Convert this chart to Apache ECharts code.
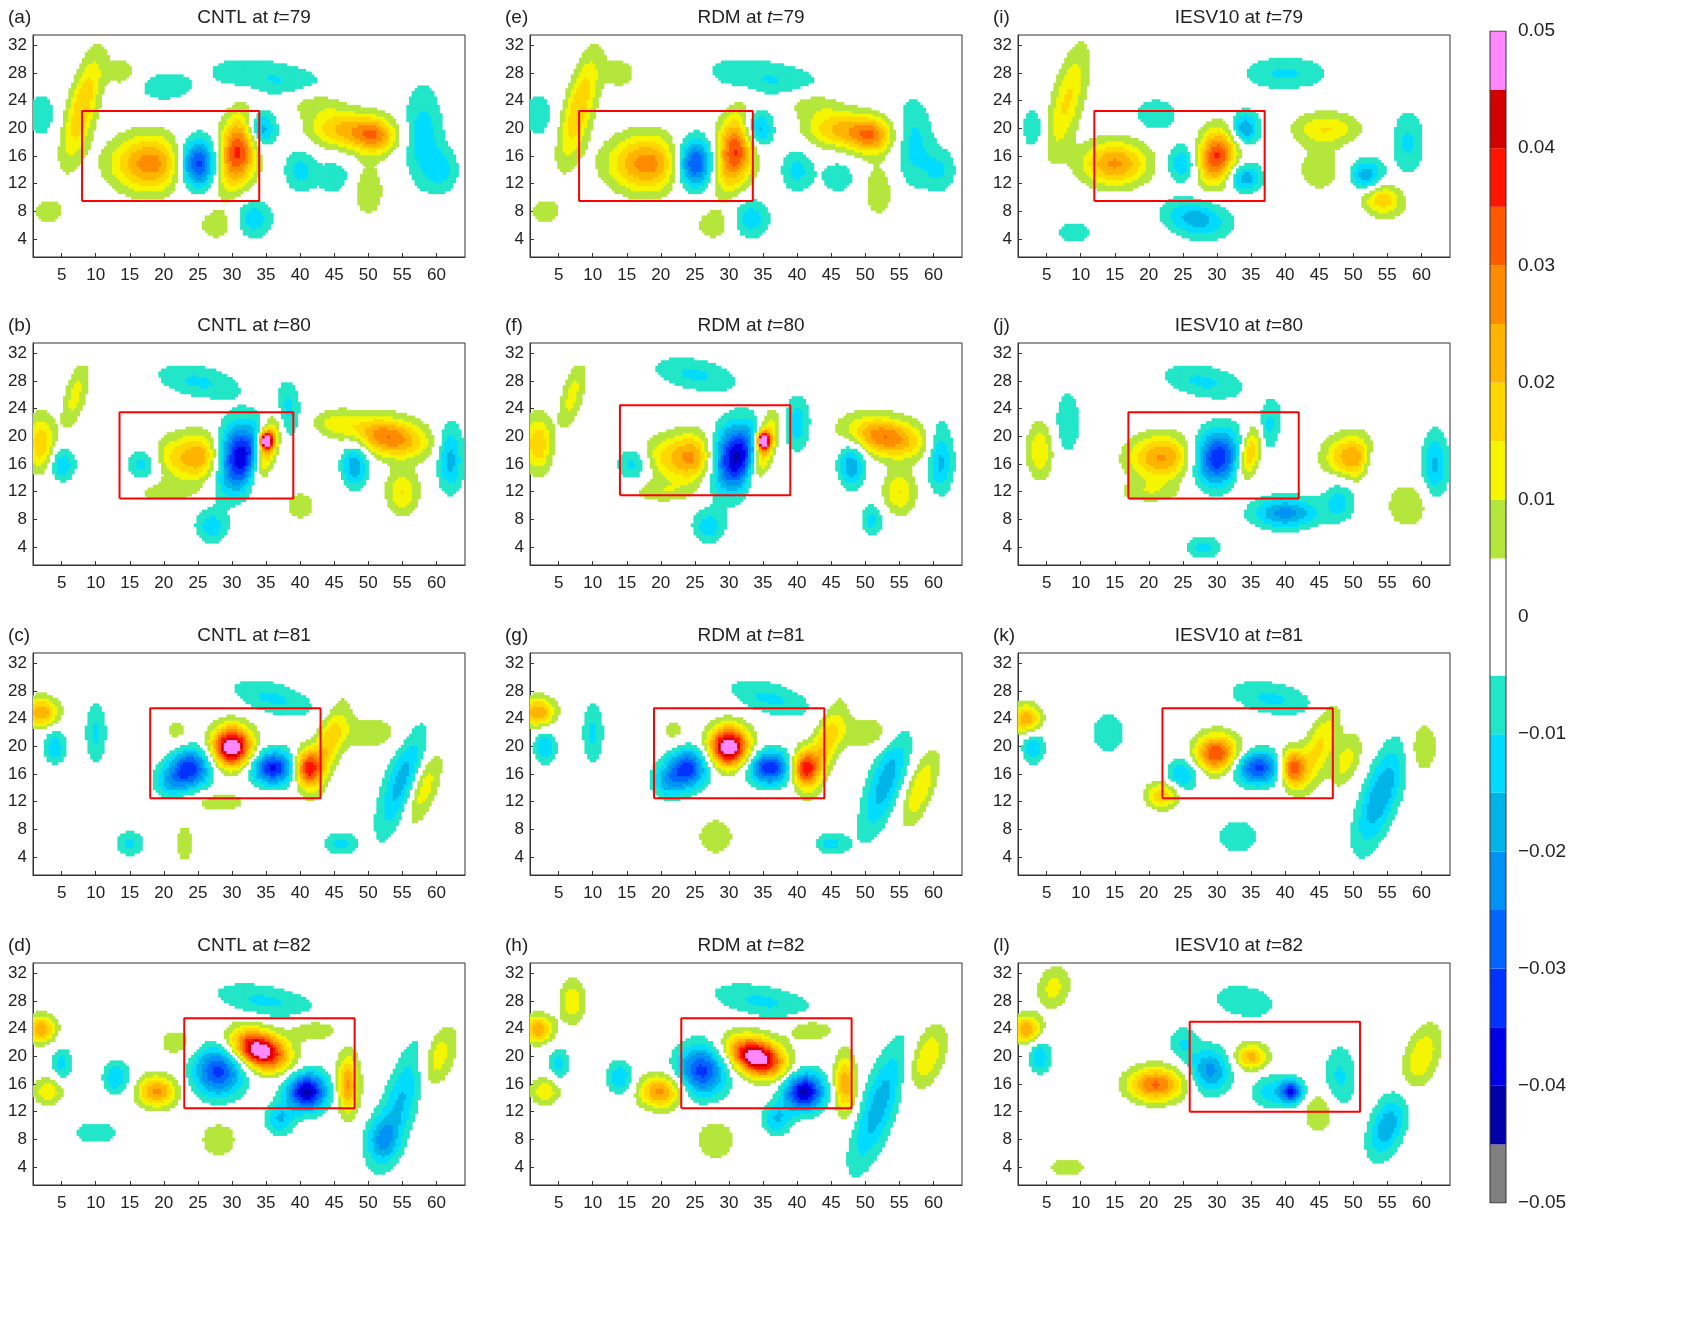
<!DOCTYPE html>
<html><head><meta charset="utf-8">
<script src="https://cdn.jsdelivr.net/npm/echarts@6/dist/echarts.min.js"></script>
<style>html,body{margin:0;background:#fff}#c{width:1700px;height:1319px}</style>
</head><body><div id="c"></div>
<script>
// Panel metadata
const panelLetters = ['a','b','c','d','e','f','g','h','i','j','k','l'];
const panelNames = ['CNTL','CNTL','CNTL','CNTL','RDM','RDM','RDM','RDM','IESV10','IESV10','IESV10','IESV10'];
const panelTimes = [79,80,81,82,79,80,81,82,79,80,81,82];
const xTicks = [5,10,15,20,25,30,35,40,45,50,55,60];
const yTicks = [4,8,12,16,20,24,28,32];
// Red boxes [x0,x1,y0,y1]
const boxes = [
 [8,34,9.5,22.5],[13.5,39,11,23.5],[18,43,12.5,25.5],[23,48,12.5,25.5],
 [8,33.5,9.5,22.5],[14,39,11.5,24.5],[19,44,12.5,25.5],[23,48,12.5,25.5],
 [12,37,9.5,22.5],[17,42,11,23.5],[22,47,12.5,25.5],[26,51,12,25]];
// Anomaly features: [x, y, amplitude, sx, sy, angleDeg]
const blobsA = [[18,15,0.028,3.5,2.5,0],[25,15,-0.038,1.8,2.2,0],[31,17,0.038,1.8,3.5,-15],[34,20,-0.028,1.4,1.8,0],[8,23,0.02,1.3,5,-15],[36,27,-0.011,6,1.8,-10],[46,20,0.02,3,1.7,0],[51,19,0.025,2,1.6,0],[58,19,-0.013,1.8,4.5,0],[2,22,-0.01,1.2,2,0],[28,6,0.008,2,1.5,0],[33,7,-0.014,1.8,1.8,0],[40,14,-0.012,1.5,2,0],[45,13,-0.01,1.5,1.5,0],[50,11,0.009,1.5,2.5,0],[61,14,-0.01,1.5,2,0],[3,8,0.008,1.5,1.2,0],[20,26,-0.008,3,1.5,0],[42,24,0.01,3,1.3,0],[14,28,0.008,1.5,1.5,0]];
const blobsB = [[26,17,0.028,2.2,2.2,0],[21,17,0.012,2,2,0],[31,17,-0.043,2.4,3,-20],[35,18,0.035,1,3,-15],[35,19.5,0.05,0.6,0.7,0],[17,16,-0.013,1.5,1.5,0],[2,19,0.02,1.2,2.5,0],[5,16,-0.015,1.2,1.5,0],[53,20,0.03,3.5,1.7,-10],[48,16,-0.02,1.2,2,0],[62,17,-0.018,1.2,3,0],[55,12,0.015,1.5,2,0],[25,28,-0.011,4,1.5,-10],[38,24,-0.013,1.2,2.5,0],[27,7,-0.013,1.5,1.5,0],[40,10,0.008,1.5,1.5,0],[7,26,0.012,1,3,-15],[20,12,0.008,3,1,0],[45,22,0.01,2,1.2,0]];
const blobsC = [[24,17,-0.033,1.8,1.8,0],[30,20,0.053,1.8,1.8,0],[36,17,-0.036,2,1.5,0],[41,17,0.036,1.2,1.6,0],[21,15,-0.015,1.5,1.5,0],[2,25,0.025,1.5,1.3,0],[4,20,-0.015,1,1.5,0],[44,20,0.018,1.2,4,-20],[55,15,-0.018,1.5,5,-20],[58,14,0.015,1.2,3.5,-20],[36,27,-0.011,4,1.5,-15],[15,6,-0.011,1.3,1.2,0],[22,22,0.007,1.5,1.5,0],[46,6,-0.012,1.5,1,0],[10,22,-0.011,1,3,0],[23,6,0.008,1,2,0],[50,22,0.009,3,1.5,0],[28,12,0.008,3,1,0]];
const blobsD = [[28,18,-0.032,2.3,2.3,0],[34,21,0.053,2.6,1.6,-20],[41,15,-0.042,1.8,1.7,0],[47,16,0.026,1,2.6,0],[19,15,0.026,1.8,1.4,0],[13,17,-0.015,1.2,1.5,0],[2,24,0.025,1.3,1.2,0],[5,19,-0.012,1,1.5,0],[3,15,0.015,1.3,1.2,0],[37,11,-0.015,1.3,1.5,0],[55,14,-0.016,1.6,6,-20],[60,20,0.015,1.5,3,-20],[35,28,-0.011,5,1.5,-10],[28,8,0.008,2,2,0],[10,9,-0.01,2,1,0],[52,8,-0.014,1.5,2,0],[22,22,0.008,2,1.5,0],[42,24,0.009,2.5,1.2,0]];
const blobsE = [[18,15,0.028,3.5,2.5,0],[25,15,-0.037,1.8,2.2,0],[31,17,0.037,1.8,3.5,-15],[34,20,-0.027,1.4,1.8,0],[8,23,0.02,1.3,5,-15],[36,27,-0.011,6,1.8,-10],[46,20,0.02,3,1.7,0],[51,19,0.025,2,1.6,0],[57,18,-0.012,1.8,4,0],[2,22,-0.01,1.2,2,0],[28,6,0.008,2,1.5,0],[33,7,-0.014,1.8,1.8,0],[40,14,-0.012,1.5,2,0],[46,13,-0.01,1.5,1.5,0],[52,11,0.009,1.5,2.5,0],[61,14,-0.01,1.5,2,0],[3,8,0.008,1.5,1.2,0],[42,24,0.01,3,1.3,0],[14,28,0.008,1.5,1.5,0]];
const blobsF = [[25,17,0.028,2.2,2.2,0],[20,17,0.012,2,2,0],[31,17,-0.043,2.4,3,-20],[35,18,0.034,1,3,-15],[35,19.5,0.05,0.6,0.7,0],[16,16,-0.013,1.5,1.5,0],[2,19,0.02,1.2,2.5,0],[53,20,0.03,3.5,1.7,-10],[48,16,-0.02,1.2,2,0],[61,17,-0.018,1.2,3,0],[55,12,0.015,1.5,2,0],[25,29,-0.011,4,1.5,-10],[40,22,-0.013,1.2,2.5,0],[27,7,-0.013,1.5,1.5,0],[51,8,-0.012,1,1.5,0],[7,26,0.012,1,3,-15],[20,12,0.008,3,1,0]];
const blobsG = [[24,17,-0.032,1.8,1.8,0],[30,20,0.053,1.8,1.8,0],[36,17,-0.035,2,1.5,0],[41,17,0.036,1.2,1.6,0],[21,15,-0.015,1.5,1.5,0],[2,25,0.025,1.5,1.3,0],[3,20,-0.015,1,1.5,0],[44,20,0.018,1.2,4,-20],[53,15,-0.018,1.5,5,-20],[58,14,0.015,1.2,3.5,-20],[36,27,-0.011,4,1.5,-15],[22,22,0.007,1.5,1.5,0],[45,6,-0.012,1.5,1,0],[10,22,-0.011,1,3,0],[28,7,0.008,2,2,0],[50,22,0.009,3,1.5,0]];
const blobsH = [[26,18,-0.032,2.3,2.3,0],[34,20,0.053,2.6,1.6,-20],[41,15,-0.042,1.8,1.7,0],[47,16,0.024,1,2.6,0],[20,15,0.027,2,1.5,0],[14,17,-0.015,1.2,1.5,0],[2,24,0.025,1.3,1.2,0],[5,19,-0.012,1,1.5,0],[3,15,0.015,1.3,1.2,0],[37,11,-0.015,1.3,1.5,0],[52,13,-0.018,1.6,6,-20],[59,20,0.015,1.5,3,-20],[35,28,-0.011,5,1.5,-10],[28,8,0.009,2,2,0],[7,28,0.014,1.2,2,0],[42,24,0.009,2.5,1.2,0]];
const blobsI = [[15,15,0.026,3,2,0],[25,15,-0.016,1.5,1.7,0],[30,16,0.036,1.8,2.5,-15],[34,20,-0.022,1.3,1.5,0],[34,13,-0.02,1.5,1.3,0],[27,7,-0.018,3,1.7,-10],[52,13,-0.022,1.5,1.5,0],[54,10,0.02,2,1.5,-20],[8,24,0.016,1.4,5,-15],[46,20,0.015,3,1.5,0],[58,18,-0.011,1.5,3,0],[40,28,-0.011,4,1.5,0],[21,22,-0.01,2,1.5,0],[3,20,-0.01,1,2,0],[9,5,-0.01,1.5,1,0],[45,14,0.009,2,2,0]];
const blobsJ = [[22,17,0.026,3,2,0],[30,17,-0.036,2.2,2.5,-20],[35,18,0.03,1,2.5,-15],[37,21,-0.016,1.2,2.5,-15],[40,9,-0.022,3,1.4,0],[50,17,0.025,2.5,2,0],[53,16,-0.015,1,2,0],[62,16,-0.016,1.2,3,0],[4,18,0.015,1.2,2.5,0],[8,22,-0.01,1.2,3,0],[28,28,-0.011,4,1.5,-10],[48,11,-0.012,1.5,2,0],[28,4,-0.012,1.5,1,0],[58,10,0.01,2,2,0],[20,12,0.008,3,1,0]];
const blobsK = [[30,19,0.036,2,1.7,0],[36,17,-0.032,2.3,1.5,0],[41,17,0.036,1.2,1.6,0],[25,16,-0.016,1.5,1.5,0],[22,13,0.02,1.5,1.2,0],[2,24,0.025,1.3,1.3,0],[3,20,-0.015,1,1.5,0],[45,20,0.016,1.3,4,-20],[54,13,-0.02,1.6,5,-20],[49,18,0.012,1.2,2.5,-20],[38,27,-0.011,4,1.5,-10],[14,22,-0.01,1.5,2,0],[33,7,-0.01,2,1.5,0],[60,20,0.01,1.5,2.5,0]];
const blobsL = [[29,18,-0.022,1.8,2,0],[21,16,0.031,2.5,1.5,0],[35,20,0.022,1.5,1.2,0],[41,15,-0.032,1,1,0],[38,15,-0.013,1.8,1.5,0],[48,17,-0.011,1.5,3,0],[2,24,0.025,1.3,1.2,0],[4,20,-0.015,1,1.5,0],[55,10,-0.019,1.5,3,-20],[60,20,0.015,1.5,3,-20],[6,30,0.012,1.5,2,-15],[34,28,-0.01,3,1.5,-10],[25,22,-0.01,1.3,1.5,0],[45,12,0.01,1.5,2,0],[8,4,0.008,2,1,0]];
const panelBlobs = [blobsA,blobsB,blobsC,blobsD,blobsE,blobsF,blobsG,blobsH,blobsI,blobsJ,blobsK,blobsL];
// Colour levels (step 0.005 from -0.05)
const levelColors = ['#808080','#0000a8','#0000e6','#0033ff','#0066ff','#0093f5','#00b4e8','#00dcff','#22e6c8','#ffffff','#ffffff','#b4e63c','#f5f500','#ffd700','#ffb400','#ff8c00','#ff5a00','#ff1400','#d20000','#ff88ff'];

function colorFor(v){let i=Math.floor((v+0.05)/0.005);i=Math.max(0,Math.min(19,i));return levelColors[i];}
function field(blobs,x,y){let s=0;for(const b of blobs){const a=b[5]*Math.PI/180;const dx=x-b[0],dy=y-b[1];const u=dx*Math.cos(a)+dy*Math.sin(a),w=-dx*Math.sin(a)+dy*Math.cos(a);const sx=b[3]*1.15,sy=b[4]*1.15;s+=b[2]*Math.exp(-0.5*(u*u/(sx*sx)+w*w/(sy*sy)));}return s;}

const colL=[33,530,1018], rowT=[35,343,653,963], W=432, H=222, step=0.4;
const grids=[],xAxes=[],yAxes=[],series=[],titles=[];
for(let p=0;p<12;p++){
  const c=Math.floor(p/4), r=p%4;
  grids.push({left:colL[c],top:rowT[r],width:W,height:H,show:true,borderColor:'#333',borderWidth:1});
  xAxes.push({type:'value',gridIndex:p,min:0.8,max:64.2,axisLine:{onZero:false,lineStyle:{color:'#333'}},splitLine:{show:false},
    axisTick:{customValues:xTicks,inside:true,length:4,lineStyle:{color:'#333'}},axisLabel:{customValues:xTicks,color:'#222',fontSize:17,margin:10,fontFamily:'Liberation Sans'}});
  yAxes.push({type:'value',gridIndex:p,min:1.4,max:33.5,axisLine:{onZero:false,lineStyle:{color:'#333'}},splitLine:{show:false},
    axisTick:{customValues:yTicks,inside:true,length:4,lineStyle:{color:'#333'}},axisLabel:{customValues:yTicks,color:'#222',fontSize:17,margin:6,fontFamily:'Liberation Sans'}});
  const cells=[];
  for(let x=0.8+step/2;x<64.2;x+=step)for(let y=1.4+step/2;y<33.5;y+=step){const v=field(panelBlobs[p],x,y);if(Math.abs(v)>=0.005)cells.push([x,y,v]);}
  series.push({type:'custom',xAxisIndex:p,yAxisIndex:p,data:cells,clip:true,silent:true,progressive:0,
    renderItem:(params,api)=>{const pt=api.coord([api.value(0),api.value(1)]);const s=api.size([step,step]);
      return {type:'rect',shape:{x:pt[0]-s[0]/2,y:pt[1]-s[1]/2,width:s[0]+0.7,height:s[1]+0.7},style:{fill:colorFor(api.value(2))}};}});
  const bx=boxes[p];
  series.push({type:'line',xAxisIndex:p,yAxisIndex:p,symbol:'none',silent:true,lineStyle:{color:'#ff0000',width:2},
    data:[[bx[0],bx[2]],[bx[1],bx[2]],[bx[1],bx[3]],[bx[0],bx[3]],[bx[0],bx[2]]]});
  titles.push({text:'('+panelLetters[p]+')',left:colL[c]-30,top:rowT[r]-32,textStyle:{fontSize:19,fontWeight:'normal',color:'#222',fontFamily:'Liberation Sans'}});
  titles.push({text:'{n|'+panelNames[p]+' at }{t|t}{n|='+panelTimes[p]+'}',left:colL[c]+W/2,textAlign:'center',top:rowT[r]-32,
    textStyle:{fontWeight:'normal',rich:{n:{fontSize:19,fontWeight:'normal',color:'#222',fontFamily:'Liberation Sans'},t:{fontSize:19,fontWeight:'normal',color:'#222',fontStyle:'italic',fontFamily:'Liberation Sans'}}}});
}
// Colour bar
const cb=12;
grids.push({left:1490,top:31,width:16,height:1172});
xAxes.push({type:'value',gridIndex:cb,min:0,max:1,show:false});
yAxes.push({type:'value',gridIndex:cb,min:-0.05,max:0.05,position:'right',interval:0.01,axisLine:{show:false},
  axisTick:{show:false},splitLine:{show:false},axisLabel:{color:'#222',fontSize:19,margin:12,fontFamily:'Liberation Sans',formatter:v=>{const s=Math.abs(v)<1e-9?'0':Math.abs(v).toFixed(2);return v< -1e-9?'\u2212'+s:s;}}});
const cbData=levelColors.map((col,i)=>[i]);
series.push({type:'custom',xAxisIndex:cb,yAxisIndex:cb,data:cbData,silent:true,
  renderItem:(params,api)=>{const i=api.value(0);const a=api.coord([0,-0.05+i*0.005]),b=api.coord([1,-0.05+(i+1)*0.005]);
    return {type:'rect',shape:{x:a[0],y:b[1],width:b[0]-a[0],height:a[1]-b[1]},style:{fill:levelColors[i],stroke:null}};}});
series.push({type:'line',xAxisIndex:cb,yAxisIndex:cb,symbol:'none',silent:true,lineStyle:{color:'#333',width:1},
  data:[[0,-0.05],[1,-0.05],[1,0.05],[0,0.05],[0,-0.05]]});
const chart=echarts.init(document.getElementById('c'));
chart.setOption({animation:false,backgroundColor:'#fff',title:titles,grid:grids,xAxis:xAxes,yAxis:yAxes,series:series});
</script></body></html>
